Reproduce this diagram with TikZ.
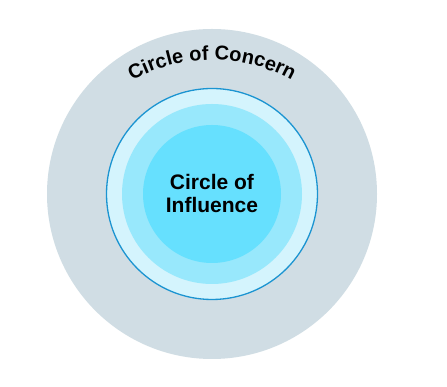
\documentclass[tikz,border=0pt]{standalone}
\usepackage{fontspec}
\setmainfont{Liberation Sans}
\usetikzlibrary{decorations.text}
\definecolor{concern}{HTML}{D0DDE4}
\definecolor{ringA}{HTML}{D4F4FD}
\definecolor{ringB}{HTML}{98E8FC}
\definecolor{core}{HTML}{66E0FE}
\definecolor{rim}{HTML}{1B94D1}
\tikzset{
  disc/.style={circle, draw=none, inner sep=0pt, minimum size=#1},
  label text/.style={font=\fontsize{21}{23}\selectfont\bfseries, text=black, inner sep=0pt, anchor=base}
}
\begin{document}
\begin{tikzpicture}[x=1pt,y=1pt]
\useasboundingbox (0,0) rectangle (447,387);
\fill[white] (0,0) rectangle (447,387);
\node[disc=330pt, fill=concern] (concern) at (212,193) {};
\node[disc=211pt, fill=ringA, draw=rim, line width=1.3pt] (influence) at (212,193) {};
\node[disc=180pt, fill=ringB] (mid) at (212,193) {};
\node[disc=138pt, fill=core] (corecircle) at (212,193) {};
\node[label text] (l1) at (212,197) {Circle of};
\node[label text] (l2) at (212,174) {Influence};
\path[decorate, decoration={text along path, text align=center,
  text={|\fontsize{20}{20}\selectfont\bfseries|Circle of Concern}}]
  (212,162) ++(155:165) arc (155:25:165);
\end{tikzpicture}
\end{document}
